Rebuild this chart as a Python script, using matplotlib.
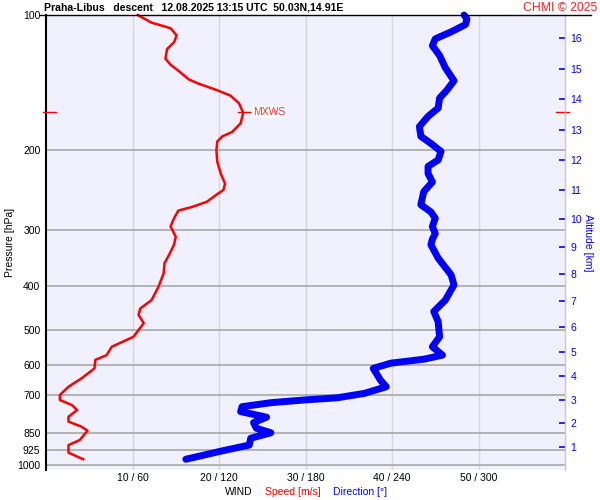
import matplotlib
matplotlib.use("Agg")
import matplotlib.pyplot as plt
from matplotlib.lines import Line2D

plt.rcParams['font.family'] = ['Liberation Sans', 'DejaVu Sans']

# ---- data ----
speed_p = [100, 104, 107, 111, 115, 119, 125, 129, 133, 139, 142, 147, 151, 157, 165,
           174, 182, 186, 191, 200, 212, 225, 237, 245, 250, 260, 267, 272, 283, 295,
           311, 324, 342, 356, 375, 402, 430, 449, 464, 484, 519, 546, 570, 584, 610,
           642, 670, 699, 717, 736, 755, 781, 801, 822, 839, 880, 903, 939, 971]
speed = [10.6, 12.2, 14.4, 15.1, 14.8, 14.0, 13.8, 14.4, 15.3, 16.5, 17.6, 19.8, 21.3, 22.3, 22.8,
         22.5, 21.5, 20.4, 19.8, 19.7, 19.8, 20.2, 20.7, 20.5, 19.8, 18.6, 16.9, 15.3, 14.8, 14.4,
         15.0, 14.8, 14.2, 13.7, 13.6, 13.0, 12.2, 10.9, 10.7, 11.3, 10.1, 7.6, 7.0, 5.7, 5.6,
         4.1, 2.6, 1.6, 1.6, 3.0, 3.6, 2.6, 2.6, 4.1, 4.8, 3.9, 2.6, 2.6, 4.3]

dir_p = [100, 102, 105, 109, 113, 117, 123, 131, 140, 147, 153, 161, 168, 177, 186,
         193, 201, 210, 217, 225, 235, 247, 264, 274, 283, 295, 306, 315, 324, 347,
         378, 398, 430, 456, 480, 519, 546, 570, 582, 594, 610, 648, 670, 693, 709,
         717, 727, 742, 761, 783, 805, 829, 848, 872, 903, 929, 971]
direction = [290, 292, 291, 281, 270, 268, 273, 277, 283, 278, 273, 272, 265, 259, 260,
             267, 274, 272, 265, 265, 268, 262, 260, 267, 270, 268, 270, 268, 267, 272,
             281, 283, 277, 269, 272, 273, 268, 275, 262, 239, 227, 232, 236, 221, 202,
             179, 156, 136, 135, 153, 144, 146, 156, 142, 141, 123, 97]

pressure_ticks = [100, 200, 300, 400, 500, 600, 700, 850, 925, 1000]
speed_ticks = [10, 20, 30, 40, 50]
xtick_labels = ["10 / 60", "20 / 120", "30 / 180", "40 / 240", "50 / 300"]
alt_km = list(range(1, 17))
alt_p = [912, 806, 717, 634, 561, 494, 432, 376, 328, 284, 245, 210, 180, 154, 132, 112.5]
mxws_p = 164.5
mxws_speed = 22.8

title = "Praha-Libus   descent   12.08.2025 13:15 UTC  50.03N,14.91E"

# ---- figure ----
W, H = 600, 500
fig = plt.figure(figsize=(6, 5), dpi=100)
x0, x1, y0, y1 = 46, 565, 15, 470
ax = fig.add_axes([x0 / W, 1 - y1 / H, (x1 - x0) / W, (y1 - y0) / H])
ax.set_facecolor('#f0f0ff')
ax.set_yscale('log')
ylow = 1000 * 10 ** (5 / 450)
ax.set_ylim(ylow, 100)
ax.set_xlim(0, 60)
ax.minorticks_off()

for p in pressure_ticks:
    ax.axhline(p, color='#a8a8a8', lw=1.2, zorder=1)
for s in speed_ticks:
    ax.axvline(s, color='#d8d8d8', lw=1.0, zorder=0.5)

ax.set_yticks(pressure_ticks)
ax.set_yticklabels([str(p) for p in pressure_ticks])
ax.set_xticks(speed_ticks)
ax.set_xticklabels(xtick_labels)
ax.tick_params(axis='both', length=0, labelsize=7.5)
ax.tick_params(axis='y', pad=4)
ax.tick_params(axis='x', pad=2)

for side in ['top', 'bottom', 'right']:
    ax.spines[side].set_visible(False)
ax.spines['left'].set_color('black')
ax.spines['left'].set_linewidth(1.5)

ax.set_ylabel('Pressure [hPa]', fontsize=7.5, labelpad=2)

# speed
ax.plot(speed, speed_p, color='#ff0000', lw=1.8, zorder=3, clip_on=False)

# MXWS markers
ax.plot([-0.35, 1.15], [mxws_p, mxws_p], color='#ff0000', lw=1.0, clip_on=False, zorder=4)
ax.plot([59.0, 60.5], [mxws_p, mxws_p], color='#ff0000', lw=1.0, clip_on=False, zorder=4)
ax.plot([mxws_speed - 0.6, mxws_speed + 0.8], [mxws_p, mxws_p], color='#ff0000', lw=1.0, zorder=4)
ax.text(mxws_speed + 1.2, mxws_p, 'MXWS', color='#ff3030', fontsize=7.5, va='center', ha='left',
        bbox=dict(facecolor='white', edgecolor='none', pad=0.8), zorder=5)

# direction
axd = ax.twiny()
axd.set_xlim(0, 360)
axd.set_ylim(ylow, 100)
axd.set_xticks([])
for sp in axd.spines.values():
    sp.set_visible(False)
axd.plot(direction, dir_p, color='#0000ff', lw=5, solid_capstyle='round', clip_on=False, zorder=3)

# altitude axis
axa = ax.twinx()
axa.set_yscale('log')
axa.set_ylim(ylow, 100)
axa.minorticks_off()
axa.set_yticks(alt_p)
axa.set_yticklabels([str(k) for k in alt_km])
axa.tick_params(axis='y', direction='in', length=4.5, width=1.2, color='#0000ff',
                labelcolor='#0000ff', labelsize=7.5, pad=4)
for side in ['top', 'bottom', 'left']:
    axa.spines[side].set_visible(False)
axa.spines['right'].set_color('#c8c8c8')
axa.spines['right'].set_linewidth(1.0)
axa.set_ylabel('Altitude [km]', color='#0000ff', fontsize=7.5, rotation=-90, labelpad=8)

# header
fig.add_artist(Line2D([40 / W, 591 / W], [1 - 15 / H, 1 - 15 / H], color='black', lw=1.0))
fig.text(44 / W, 1 - 8 / H, title, fontsize=7.6, fontweight='bold', ha='left', va='center')
fig.text(597 / W, 1 - 8 / H, 'CHMI © 2025', fontsize=8.8, color='#ff2020', ha='right', va='center')

# bottom legend
fig.text(225 / W, 1 - 492 / H, 'WIND', fontsize=7.5, color='black', ha='left', va='center')
fig.text(265 / W, 1 - 492 / H, 'Speed [m/s]', fontsize=7.5, color='#ff0000', ha='left', va='center')
fig.text(333 / W, 1 - 492 / H, 'Direction [°]', fontsize=7.5, color='#0000ff', ha='left', va='center')

fig.savefig('out.png', dpi=100, facecolor='white')
